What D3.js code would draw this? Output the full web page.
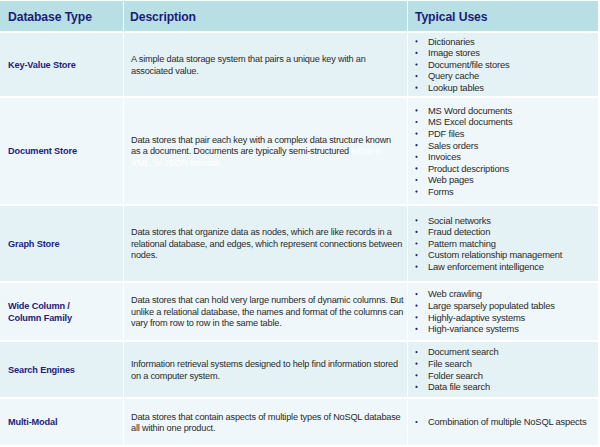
<!DOCTYPE html>
<html><head><meta charset="utf-8">
<script src="https://cdn.jsdelivr.net/npm/d3@7"></script>
<style>
html,body{margin:0;padding:0;background:#fff;}
svg{display:block;font-family:Arial,"Liberation Sans",sans-serif;}
</style></head>
<body>
<svg id="c" width="600" height="447"></svg>
<script>
// ---- data ----
const headers = ["Database Type", "Description", "Typical Uses"];
const types = [
  ["Key-Value  Store"],
  ["Document  Store"],
  ["Graph  Store"],
  ["Wide Column  /", "Column  Family"],
  ["Search Engines"],
  ["Multi-Modal"]
];
const descriptions = [
  ["A simple data storage system that pairs a unique key with an", "associated value."],
  ["Data stores that pair each key with a complex data structure known", "as a document.  Documents are typically semi-structured|either in", "|XML, or JSON formats."],
  ["Data stores that organize data as nodes, which are like records in a", "relational database, and edges, which represent connections between", "nodes."],
  ["Data stores that can hold very  large numbers of dynamic columns. But", "unlike a relational database, the names and format of the columns can", "vary  from row to row in the same table."],
  ["Information retrieval systems designed to help find information stored", "on a computer system."],
  ["Data stores that contain aspects of multiple types of NoSQL database", "all within one product."]
];
const uses = [
  ["Dictionaries", "Image stores", "Document/file stores", "Query cache", "Lookup tables"],
  ["MS Word documents", "MS Excel documents", "PDF files", "Sales orders", "Invoices", "Product descriptions", "Web pages", "Forms"],
  ["Social networks", "Fraud detection", "Pattern matching", "Custom relationship management", "Law enforcement intelligence"],
  ["Web crawling", "Large sparsely populated tables", "Highly-adaptive systems", "High-variance systems"],
  ["Document search", "File search", "Folder search", "Data file search"],
  ["Combination of multiple NoSQL aspects"]
];

// ---- layout ----
const rowTops = [33, 98, 206, 283, 342, 399];
const rowHeights = [63, 106, 75, 57, 55, 46];
const colX = [0, 124, 408];
const colW = [123, 283, 190];
const headerTop = 1, headerH = 30;
const lineH = 11.6;
const rowFill = ["#e5f2f5", "#eff7fa", "#e5f2f5", "#eff7fa", "#e5f2f5", "#eff7fa"];
const navy = "#1c1c80";

const svg = d3.select("#c");
const x = d3.scaleOrdinal().domain(headers).range(colX);

// header
const hg = svg.append("g");
hg.selectAll("rect").data(headers).join("rect")
  .attr("x", d => x(d)).attr("y", headerTop)
  .attr("width", (d, i) => colW[i]).attr("height", headerH)
  .attr("fill", "#b8dfe4");
hg.selectAll("text").data(headers).join("text")
  .attr("x", (d, i) => x(d) + (i === 0 ? 8 : i === 1 ? 6 : 7)).attr("y", headerTop + headerH / 2 + 4.5)
  .attr("font-size", 12.2).attr("font-weight", "bold").attr("fill", navy)
  .attr("letter-spacing", -0.1)
  .text(d => d);

const rows = svg.selectAll("g.row").data(types.map((t, i) => ({t, d: descriptions[i], u: uses[i], i})))
  .join("g").attr("class", "row")
  .attr("transform", r => `translate(0,${rowTops[r.i]})`);

rows.each(function(r) {
  const g = d3.select(this);
  const h = rowHeights[r.i];
  g.selectAll("rect").data(headers).join("rect")
    .attr("x", d => x(d)).attr("y", 0)
    .attr("width", (d, i) => colW[i]).attr("height", h)
    .attr("fill", rowFill[r.i]);
  const cy = h / 2;
  // type
  g.append("g").selectAll("text").data(r.t).join("text")
    .attr("x", x(headers[0]) + 8)
    .attr("y", (d, j) => cy + (j - (r.t.length - 1) / 2) * lineH + 3.3)
    .attr("font-size", 9.2).attr("font-weight", "bold").attr("fill", "#22227c")
    .attr("letter-spacing", -0.15)
    .text(d => d);
  // description
  const dt = g.append("g").selectAll("text").data(r.d).join("text")
    .attr("x", x(headers[1]) + 7)
    .attr("y", (d, j) => cy + (j - (r.d.length - 1) / 2) * lineH + 3.3)
    .attr("font-size", 9.2).attr("fill", "#2a2a2a")
    .attr("letter-spacing", -0.2);
  dt.each(function(d) {
    const parts = d.split("|");
    const t = d3.select(this);
    parts.forEach((p, k) => {
      if (!p) return;
      t.append("tspan").text(k > 0 && parts[0] ? " " + p : p)
        .attr("fill", k > 0 ? "#ffffff" : null);
    });
  });
  // uses
  const ug = g.append("g");
  ug.selectAll("circle").data(r.u).join("circle")
    .attr("cx", x(headers[2]) + 8.5)
    .attr("cy", (d, j) => cy + (j - (r.u.length - 1) / 2) * lineH)
    .attr("r", 1.1).attr("fill", navy);
  ug.selectAll("text").data(r.u).join("text")
    .attr("x", x(headers[2]) + 20)
    .attr("y", (d, j) => cy + (j - (r.u.length - 1) / 2) * lineH + 3.3)
    .attr("font-size", 9.4).attr("fill", "#2a2a2a")
    .attr("letter-spacing", -0.2)
    .text(d => d);
});
</script>
</body></html>
